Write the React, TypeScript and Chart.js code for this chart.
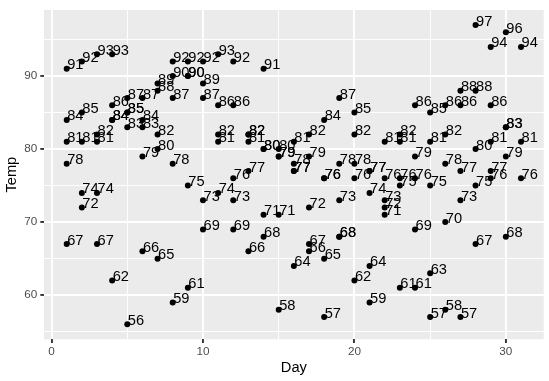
import React, { useEffect, useRef } from "react";
import { Chart, registerables } from "chart.js";

Chart.register(...registerables);

const days = [1, 2, 3, 4, 5, 6, 7, 8, 9, 10, 11, 12, 13, 14, 15, 16, 17, 18, 19, 20, 21, 22, 23, 24, 25, 26, 27, 28, 29, 30, 31];

const tempMay = [67, 72, 74, 62, 56, 66, 65, 59, 61, 69, 74, 69, 66, 68, 58, 64, 66, 57, 68, 62, 59, 73, 61, 61, 57, 58, 57, 67, 81, 79, 76];
const tempJun = [78, 74, 67, 84, 85, 79, 82, 87, 90, 87, 93, 92, 82, 80, 79, 77, 72, 65, 73, 76, 77, 76, 76, 76, 75, 78, 73, 80, 77, 83];
const tempJul = [84, 85, 81, 84, 83, 83, 88, 92, 92, 89, 82, 73, 81, 91, 80, 81, 82, 84, 87, 85, 74, 81, 82, 86, 85, 82, 86, 88, 86, 83, 81];
const tempAug = [81, 81, 82, 86, 85, 87, 89, 90, 90, 92, 86, 86, 82, 80, 79, 77, 79, 76, 78, 78, 77, 72, 75, 79, 81, 86, 88, 97, 94, 96, 94];
const tempSep = [91, 92, 93, 93, 87, 84, 80, 78, 75, 73, 81, 76, 77, 71, 71, 78, 67, 76, 68, 82, 64, 71, 81, 69, 63, 70, 77, 75, 76, 68];

const xTicks = [0, 5, 10, 15, 20, 25, 30];
const yTicks = [55, 60, 65, 70, 75, 80, 85, 90, 95];
const xMajor = [0, 10, 20, 30];
const yMajor = [60, 70, 80, 90];

const FONT = "'Liberation Sans', Arial, Helvetica, sans-serif";

export default function App() {
  const ref = useRef<HTMLCanvasElement | null>(null);

  useEffect(() => {
    document.body.style.margin = "0";
    const points: { x: number; y: number }[] = [];
    [tempMay, tempJun, tempJul, tempAug, tempSep].forEach((month) => {
      month.forEach((t, i) => points.push({ x: days[i], y: t }));
    });

    const bgPlugin = {
      id: "panelBg",
      beforeDraw(chart: any) {
        const { ctx, chartArea } = chart;
        ctx.save();
        ctx.fillStyle = "#EBEBEB";
        ctx.fillRect(chartArea.left, chartArea.top, chartArea.right - chartArea.left, chartArea.bottom - chartArea.top);
        ctx.restore();
      },
    };

    const labelPlugin = {
      id: "pointLabels",
      afterDatasetsDraw(chart: any) {
        const { ctx } = chart;
        const meta = chart.getDatasetMeta(0);
        const data = chart.data.datasets[0].data as any[];
        ctx.save();
        ctx.fillStyle = "#000000";
        ctx.font = `14.67px ${FONT}`;
        ctx.textAlign = "left";
        ctx.textBaseline = "alphabetic";
        meta.data.forEach((el: any, i: number) => {
          ctx.fillText(String(data[i].y), el.x + 0.5, el.y + 0.5);
        });
        ctx.restore();
      },
    };

    const chart = new Chart(ref.current as HTMLCanvasElement, {
      type: "scatter",
      data: {
        datasets: [
          {
            data: points,
            pointRadius: 3,
            pointHoverRadius: 3,
            backgroundColor: "#000000",
            borderWidth: 0,
          },
        ],
      },
      options: {
        animation: false,
        responsive: false,
        devicePixelRatio: 1,
        events: [],
        layout: { padding: { top: 5, right: 5.3, left: 0, bottom: 0 } },
        plugins: { legend: { display: false }, tooltip: { enabled: false } },
        scales: {
          x: {
            type: "linear",
            min: -0.5,
            max: 32.5,
            afterBuildTicks: (scale: any) => {
              scale.ticks = xTicks.map((v) => ({ value: v }));
            },
            afterFit: (scale: any) => {
              scale.height = 41.7;
            },
            border: { display: false },
            grid: {
              color: "#FFFFFF",
              lineWidth: (c: any) => (xMajor.includes(c.tick?.value) ? 1.9 : 0.95),
              tickColor: (c: any) => (xMajor.includes(c.tick?.value) ? "#333333" : "rgba(0,0,0,0)"),
              tickWidth: 1.9,
              tickLength: 3.67,
            },
            ticks: {
              autoSkip: false,
              maxRotation: 0,
              padding: 2,
              color: "#4D4D4D",
              font: { family: FONT, size: 11.73 },
              callback: (v: any) => (xMajor.includes(Number(v)) ? String(v) : ""),
            },
            title: {
              display: true,
              text: "Day",
              color: "#000000",
              font: { family: FONT, size: 14.67 },
              padding: { top: 0, bottom: 4.5 },
            },
          },
          y: {
            type: "linear",
            min: 53.95,
            max: 99.05,
            afterBuildTicks: (scale: any) => {
              scale.ticks = yTicks.map((v) => ({ value: v }));
            },
            afterFit: (scale: any) => {
              scale.width = 44;
            },
            border: { display: false },
            grid: {
              color: "#FFFFFF",
              lineWidth: (c: any) => (yMajor.includes(c.tick?.value) ? 1.9 : 0.95),
              tickColor: (c: any) => (yMajor.includes(c.tick?.value) ? "#333333" : "rgba(0,0,0,0)"),
              tickWidth: 1.9,
              tickLength: 3.67,
            },
            ticks: {
              autoSkip: false,
              padding: 3,
              color: "#4D4D4D",
              font: { family: FONT, size: 11.73 },
              callback: (v: any) => (yMajor.includes(Number(v)) ? String(v) : ""),
            },
            title: {
              display: true,
              text: "Temp",
              color: "#000000",
              font: { family: FONT, size: 14.67 },
              padding: { top: 3.5, bottom: 0 },
            },
          },
        },
      },
      plugins: [bgPlugin, labelPlugin],
    });

    return () => chart.destroy();
  }, []);

  return (
    <div style={{ width: 549, height: 381 }}>
      <canvas ref={ref} width={549} height={381} style={{ display: "block" }} />
    </div>
  );
}
